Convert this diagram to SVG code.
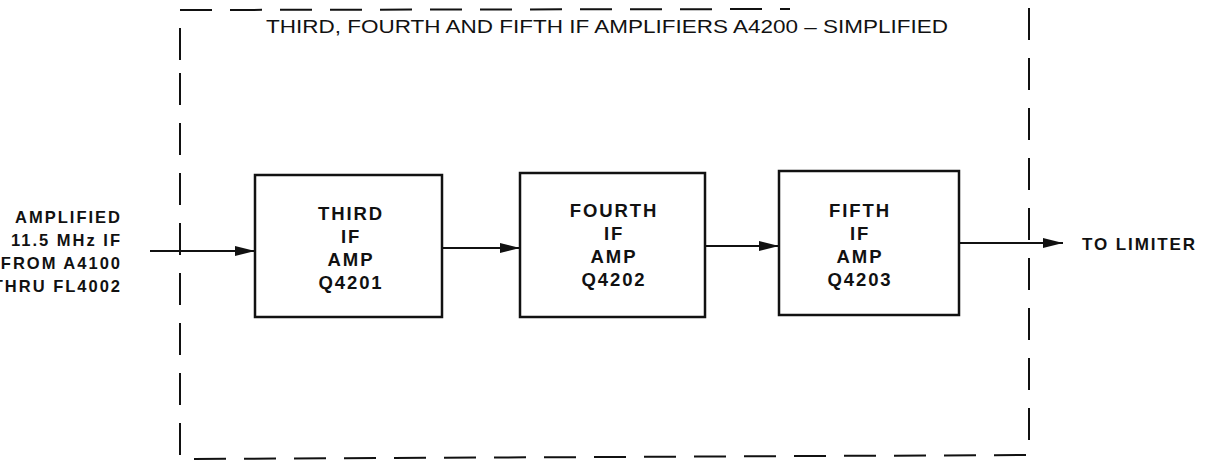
<svg xmlns="http://www.w3.org/2000/svg" width="1207" height="463" viewBox="0 0 1207 463">
<style>
text{font-family:"Liberation Sans",Arial,sans-serif;fill:#111;}
.box{fill:#fff;stroke:#111;stroke-width:2.5;}
.lbl{font-size:18.5px;font-weight:bold;text-anchor:middle;letter-spacing:1.9px;}
.side{font-size:16.5px;font-weight:bold;letter-spacing:2px;}
.out{font-size:17px;font-weight:bold;letter-spacing:1.9px;}
.wire{stroke:#111;stroke-width:2.2;fill:none;}
.dash{stroke:#111;stroke-width:2;fill:none;stroke-dasharray:32 18;}
</style>
<defs>
<marker id="ah" markerWidth="20" markerHeight="10" refX="20" refY="5" orient="auto" markerUnits="userSpaceOnUse">
<path d="M0,0 L20,5 L0,10 Z" fill="#111"/>
</marker>
</defs>
<rect width="1207" height="463" fill="#fff"/>
<g id="boundary">
<path class="dash" d="M180,60 L180,10 L790,9"/>
<path class="dash" d="M1029,8 L1029,455 L180,459 L180,60"/>
<text x="266" y="33" font-size="19" textLength="682" lengthAdjust="spacingAndGlyphs">THIRD, FOURTH AND FIFTH IF AMPLIFIERS A4200 – SIMPLIFIED</text>
</g>
<g id="connectors">
<line class="wire" x1="150" y1="251" x2="255" y2="251" marker-end="url(#ah)"/>
<line class="wire" x1="442" y1="248" x2="520" y2="248" marker-end="url(#ah)"/>
<line class="wire" x1="705" y1="246" x2="779" y2="246" marker-end="url(#ah)"/>
<line class="wire" x1="959" y1="243" x2="1063" y2="243" marker-end="url(#ah)"/>
</g>
<g id="input-label">
<text class="side" x="122" y="223" text-anchor="end">AMPLIFIED</text>
<text class="side" x="122" y="246" text-anchor="end">11.5 MHz IF</text>
<text class="side" x="122" y="269" text-anchor="end">FROM A4100</text>
<text class="side" x="122" y="292" text-anchor="end">THRU FL4002</text>
</g>
<g id="third-if-amp">
<rect class="box" x="255" y="175" width="187" height="142"/>
<text class="lbl" x="351" y="220">THIRD</text>
<text class="lbl" x="351" y="243">IF</text>
<text class="lbl" x="351" y="266">AMP</text>
<text class="lbl" x="351" y="289">Q4201</text>
</g>
<g id="fourth-if-amp">
<rect class="box" x="520" y="173" width="185" height="144"/>
<text class="lbl" x="614" y="217">FOURTH</text>
<text class="lbl" x="614" y="240">IF</text>
<text class="lbl" x="614" y="263">AMP</text>
<text class="lbl" x="614" y="286">Q4202</text>
</g>
<g id="fifth-if-amp">
<rect class="box" x="779" y="171" width="180" height="144"/>
<text class="lbl" x="860" y="217">FIFTH</text>
<text class="lbl" x="860" y="240">IF</text>
<text class="lbl" x="860" y="263">AMP</text>
<text class="lbl" x="860" y="286">Q4203</text>
</g>
<g id="output-label">
<text class="out" x="1082" y="250">TO LIMITER</text>
</g>
</svg>
